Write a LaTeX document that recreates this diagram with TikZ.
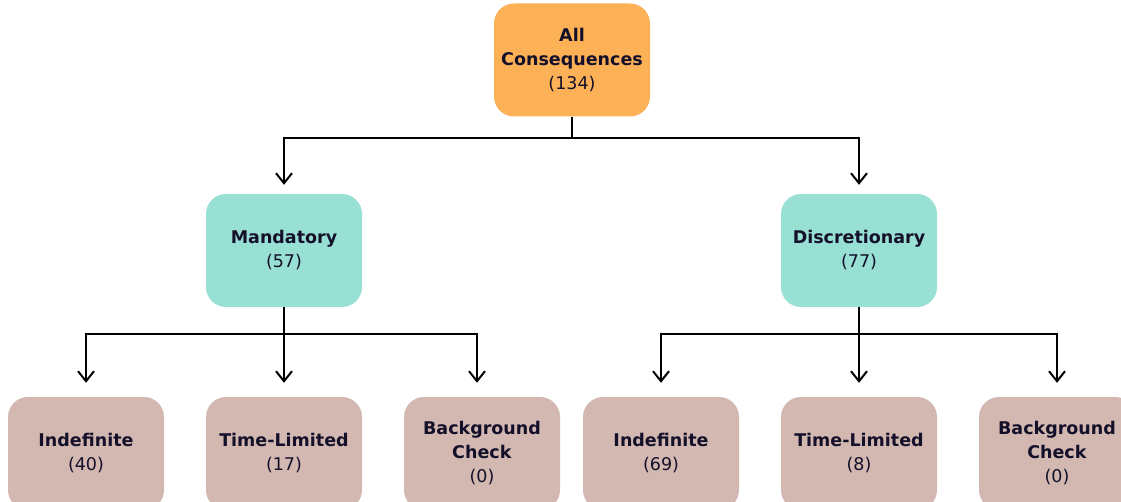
\documentclass[tikz,border=0pt]{standalone}
\usepackage{fontspec}
\setmainfont{DejaVu Sans}
\usetikzlibrary{arrows.meta}
\definecolor{orangebox}{HTML}{FDB157}
\definecolor{tealbox}{HTML}{98E0D4}
\definecolor{taupebox}{HTML}{D2B8B1}
\definecolor{ink}{HTML}{14102A}
\begin{document}
\begin{tikzpicture}[x=1pt,y=-1pt,
  box/.style={rounded corners=20pt, minimum width=156pt, minimum height=113pt,
    align=center, font=\fontsize{17.5}{24}\selectfont, text=ink, inner sep=0pt},
  topbox/.style={box, fill=orangebox},
  midbox/.style={box, fill=tealbox},
  leafbox/.style={box, fill=taupebox},
  conn/.style={line width=2pt, draw=black},
  arr/.style={conn, -{Straight Barb[length=10pt,width=16pt,line width=2pt]}}]
\useasboundingbox (0,0) rectangle (1121,502);
\fill[white] (0,0) rectangle (1121,502);
\begin{scope}
\clip (0,0) rectangle (1121,502);
\node[topbox] (all) at (572,60) {\textbf{All}\\\textbf{Consequences}\\(134)};
\node[midbox] (man) at (284,250.5) {\textbf{Mandatory}\\(57)};
\node[midbox] (dis) at (859,250.5) {\textbf{Discretionary}\\(77)};
\node[leafbox] (mi) at (86,453.5) {\textbf{Indefinite}\\(40)};
\node[leafbox] (mt) at (284,453.5) {\textbf{Time-Limited}\\(17)};
\node[leafbox] (mb) at (482,453.5) {\textbf{Background}\\\textbf{Check}\\(0)};
\node[leafbox] (di) at (661,453.5) {\textbf{Indefinite}\\(69)};
\node[leafbox] (dt) at (859,453.5) {\textbf{Time-Limited}\\(8)};
\node[leafbox] (db) at (1057,453.5) {\textbf{Background}\\\textbf{Check}\\(0)};
\end{scope}
\draw[conn] (all.south) -- ++(0,21) coordinate (ja);
\draw[arr, shorten >=9pt] (ja) -| (man.north);
\draw[arr, shorten >=9pt] (ja) -| (dis.north);
\draw[conn] (man.south) -- ++(0,27) coordinate (jm);
\draw[arr, shorten >=14pt] (jm) -| (mi.north);
\draw[arr, shorten >=14pt] (man.south) -- (mt.north);
\draw[arr, shorten >=14pt] (jm) -| ([xshift=-5pt]mb.north);
\draw[conn] (dis.south) -- ++(0,27) coordinate (jd);
\draw[arr, shorten >=14pt] (jd) -| (di.north);
\draw[arr, shorten >=14pt] (dis.south) -- (dt.north);
\draw[arr, shorten >=14pt] (jd) -| (db.north);
\end{tikzpicture}
\end{document}
